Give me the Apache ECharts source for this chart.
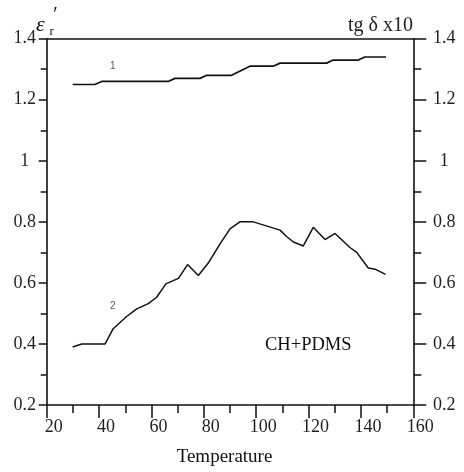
<!DOCTYPE html>
<html>
<head>
<meta charset="utf-8">
<script src="https://cdn.jsdelivr.net/npm/echarts@6/dist/echarts.min.js"></script>
<style>
    html, body { margin: 0; padding: 0; background: #fff; }
    #main { width: 464px; height: 472px; }
</style>
</head>
<body>
<div id="main"></div>
<script>
    // curve 1: ε'r, curve 2: tg δ x10
    var curve1T = [29.9, 38.4, 41, 66.4, 69, 78.5, 81.1, 90.6, 97.6, 106.5, 109.1, 126.9, 129.4, 139, 141.5, 149.6]
    var curve1V = [1.25, 1.25, 1.26, 1.26, 1.27, 1.27, 1.28, 1.28, 1.31, 1.31, 1.32, 1.32, 1.33, 1.33, 1.34, 1.34]
    var curve2T = [29.9, 33.4, 42.3, 45.4, 50.5, 54.4, 58.8, 62, 65.5, 70.3, 73.8, 77.9, 81.7, 86.2, 90, 93.8, 98.9, 109.1, 111.6, 114.2, 118, 121.8, 126.3, 130.1, 135.8, 138.4, 142.8, 145.4, 149.4]
    var curve2V = [0.39, 0.40, 0.40, 0.45, 0.49, 0.515, 0.532, 0.553, 0.597, 0.615, 0.66, 0.624, 0.665, 0.728, 0.777, 0.80, 0.80, 0.773, 0.752, 0.734, 0.721, 0.782, 0.742, 0.762, 0.716, 0.70, 0.649, 0.645, 0.628]
    var xTicks = [20, 160, 20]
    var yTicks = [0.2, 1.4, 0.2]

    var pairs = (xs, ys) => xs.map((x, i) => [x, ys[i]])

    var serif = '"Liberation Serif", "DejaVu Serif", serif'
    var ink = '#1e1e26'

    var element = document.querySelector('#main')
    var myChart = echarts.init(element)

    var axisLineStyle = { color: '#111', width: 1.6 }

    var yAxisCommon = {
        type: 'value',
        min: yTicks[0],
        max: yTicks[1],
        interval: yTicks[2],
        splitLine: { show: false },
        axisLine: { show: true, onZero: false, lineStyle: axisLineStyle },
        minorTick: { show: true, splitNumber: 2, lineStyle: { color: '#111', width: 1.5 } },
        axisLabel: {
            fontFamily: serif,
            fontSize: 18,
            color: ink,
            align: 'center',
        },
    }

    var option = {
        animation: false,
        grid: { left: 46.7, right: 50.7, top: 38.7, bottom: 64 },
        xAxis: [
            {
                type: 'value',
                min: xTicks[0],
                max: xTicks[1],
                interval: xTicks[2],
                position: 'bottom',
                splitLine: { show: false },
                axisLine: { show: true, onZero: false, lineStyle: axisLineStyle },
                axisTick: { show: true, length: 13, lineStyle: { color: '#111', width: 1.5 } },
                minorTick: { show: true, splitNumber: 2, length: 8, lineStyle: { color: '#111', width: 1.5 } },
                axisLabel: {
                    fontFamily: serif,
                    fontSize: 18,
                    color: ink,
                    margin: 13,
                    align: 'center',
                    padding: [0, 0, 0, 14],
                },
                name: 'Temperature',
                nameLocation: 'middle',
                nameGap: 43,
                nameTextStyle: {
                    fontFamily: serif,
                    fontSize: 19,
                    color: '#111',
                    padding: [0, 11, 0, 0],
                },
            },
            {
                type: 'value',
                min: xTicks[0],
                max: xTicks[1],
                position: 'top',
                splitLine: { show: false },
                axisLine: { show: true, onZero: false, lineStyle: axisLineStyle },
                axisTick: { show: false },
                axisLabel: { show: false },
            },
        ],
        yAxis: [
            Object.assign({}, yAxisCommon, {
                position: 'left',
                axisTick: { show: true, length: 8, lineStyle: { color: '#111', width: 1.5 } },
                minorTick: Object.assign({}, yAxisCommon.minorTick, { length: 6 }),
                axisLabel: Object.assign({}, yAxisCommon.axisLabel, { margin: 22 }),
            }),
            Object.assign({}, yAxisCommon, {
                position: 'right',
                axisTick: { show: true, length: 13, lineStyle: { color: '#111', width: 1.5 } },
                minorTick: Object.assign({}, yAxisCommon.minorTick, { length: 8 }),
                axisLabel: Object.assign({}, yAxisCommon.axisLabel, { margin: 31 }),
            }),
        ],
        graphic: [
            {
                type: 'text', left: 36, top: 14,
                style: { text: 'ε', font: 'italic 22px ' + serif, fill: '#111' },
            },
            {
                type: 'text', left: 52, top: 6,
                style: { text: '′', font: 'italic 20px ' + serif, fill: '#111' },
            },
            {
                type: 'text', left: 49.5, top: 25,
                style: { text: 'r', font: '13px ' + serif, fill: '#111' },
            },
            {
                type: 'text', right: 51, top: 16,
                style: { text: 'tg δ x10', font: '20px ' + serif, fill: ink },
            },
            {
                type: 'text', left: 265, top: 336,
                style: { text: 'CH+PDMS', font: '18.5px ' + serif, fill: '#111' },
            },
            {
                type: 'text', left: 110, top: 61,
                style: { text: '1', font: '10px "Liberation Sans", Arial, sans-serif', fill: '#555' },
            },
            {
                type: 'text', left: 110, top: 301,
                style: { text: '2', font: '10px "Liberation Sans", Arial, sans-serif', fill: '#555' },
            },
        ],
        series: [
            {
                name: '1',
                type: 'line',
                data: pairs(curve1T, curve1V),
                showSymbol: false,
                lineStyle: { color: '#111', width: 1.7 },
            },
            {
                name: '2',
                type: 'line',
                data: pairs(curve2T, curve2V),
                showSymbol: false,
                lineStyle: { color: '#111', width: 1.5 },
            },
        ],
    }

    myChart.setOption(option)
</script>
</body>
</html>
